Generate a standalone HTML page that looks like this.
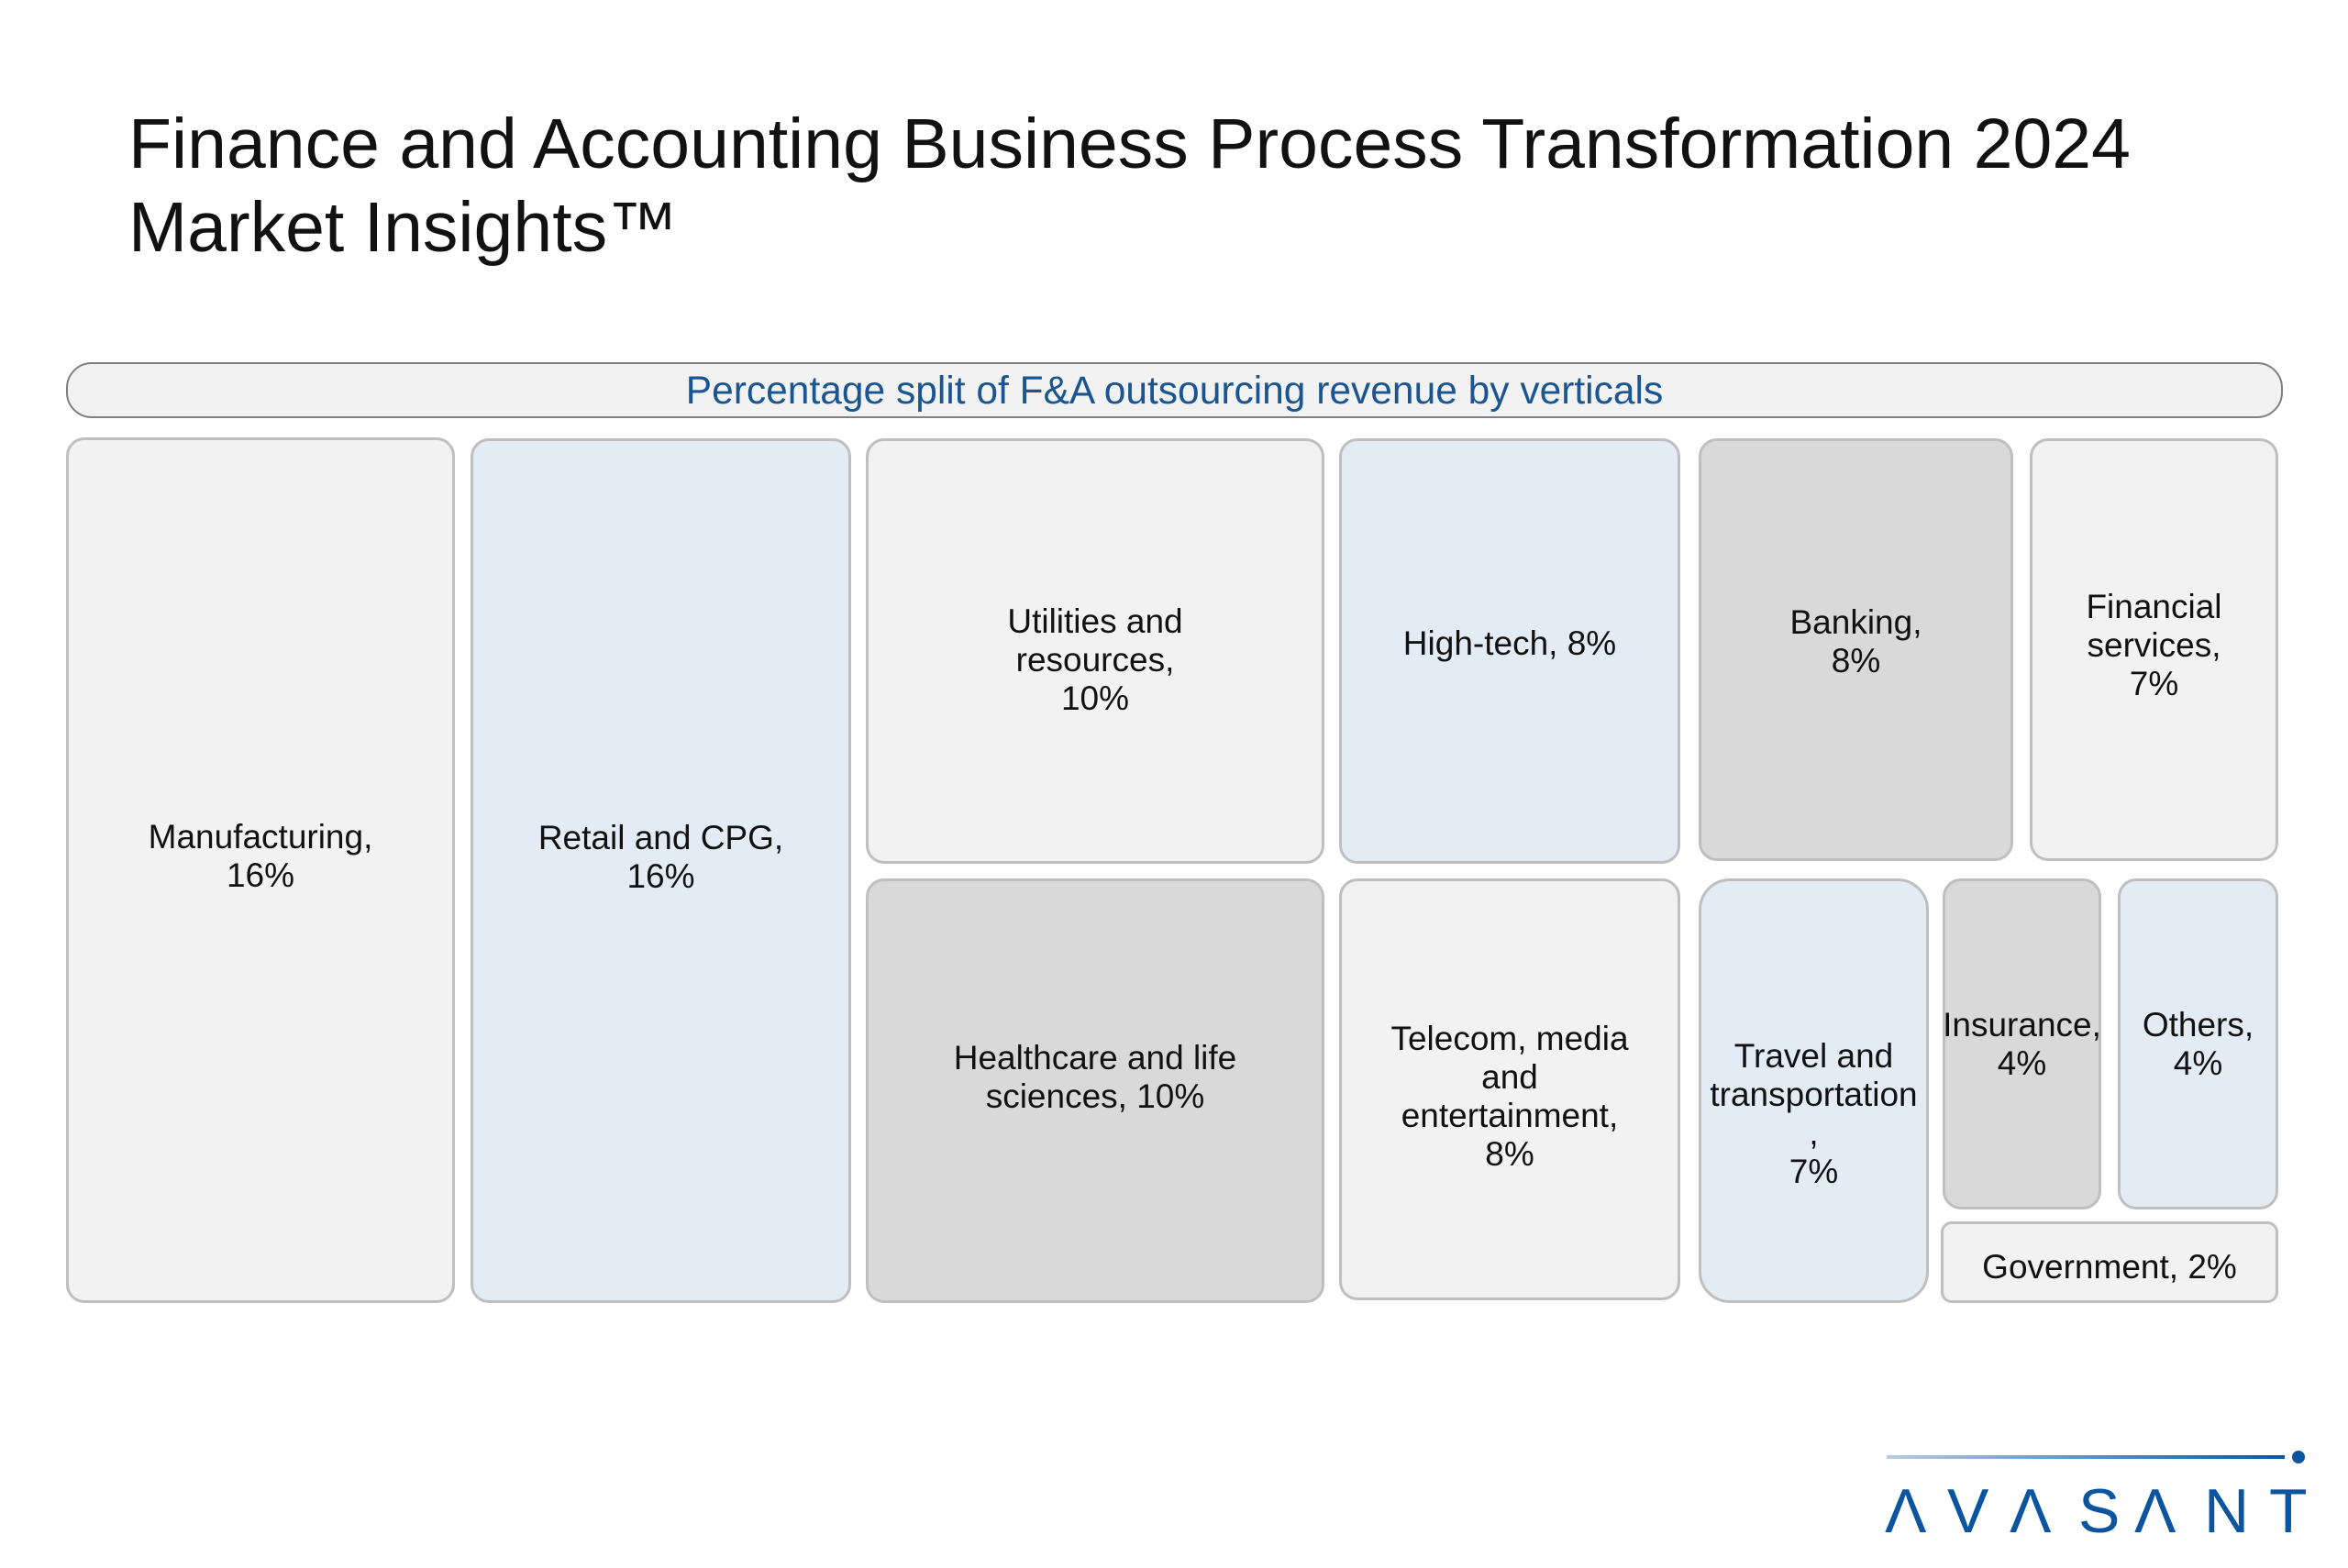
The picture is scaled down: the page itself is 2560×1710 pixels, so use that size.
<!DOCTYPE html>
<html><head><meta charset="utf-8"><style>
body{margin:0;width:2560px;height:1710px;background:#fff;position:relative;overflow:hidden;font-family:"Liberation Sans",sans-serif}
.t{position:absolute;left:140px;top:112px;font-size:77px;line-height:91px;color:#111}
.hdr{position:absolute;left:72px;top:395px;width:2413px;height:57px;border:2px solid #808080;border-radius:28px;background:#f2f2f2;color:#1a5591;font-size:42.5px;text-align:center;line-height:60px}
.b{position:absolute;box-sizing:border-box;border:3px solid #bfbfbf;border-radius:20px;display:flex;align-items:center;justify-content:center;text-align:center;font-size:37px;line-height:42px;color:#111}
.g{background:#f2f2f2}.l{background:#e3ecf5}.d{background:#d9d9d9}
</style></head><body>
<div class="t">Finance and Accounting Business Process Transformation 2024<br>Market Insights™</div>
<div class="hdr">Percentage split of F&amp;A outsourcing revenue by verticals</div>
<div class="b g" style="left:72px;top:477px;width:424px;height:944px;padding-bottom:30px">Manufacturing,<br>16%</div>
<div class="b l" style="left:513px;top:478px;width:415px;height:943px;padding-bottom:30px">Retail and CPG,<br>16%</div>
<div class="b g" style="left:944px;top:478px;width:500px;height:464px;padding-top:20px">Utilities and<br>resources,<br>10%</div>
<div class="b d" style="left:944px;top:958px;width:500px;height:463px;padding-bottom:30px">Healthcare and life<br>sciences, 10%</div>
<div class="b l" style="left:1460px;top:478px;width:372px;height:464px;padding-bottom:16px">High-tech, 8%</div>
<div class="b g" style="left:1460px;top:958px;width:372px;height:460px;padding-top:16px">Telecom, media<br>and<br>entertainment,<br>8%</div>
<div class="b d" style="left:1852px;top:478px;width:343px;height:461px;padding-bottom:18px">Banking,<br>8%</div>
<div class="b g" style="left:2213px;top:478px;width:271px;height:461px;padding-bottom:10px">Financial<br>services,<br>7%</div>
<div class="b l" style="left:1852px;top:958px;width:251px;height:463px;border-radius:34px;padding-top:50px">Travel and<br>transportation<br>,<br>7%</div>
<div class="b d" style="left:2118px;top:958px;width:173px;height:361px">Insurance,<br>4%</div>
<div class="b l" style="left:2309px;top:958px;width:175px;height:361px">Others,<br>4%</div>
<div class="b g" style="left:2116px;top:1332px;width:368px;height:89px;border-radius:12px;padding-top:10px">Government, 2%</div>
<svg style="position:absolute;left:0;top:0" width="2560" height="1710">
<defs><linearGradient id="lg" x1="0" x2="1"><stop offset="0" stop-color="#0b55a0" stop-opacity="0.3"/><stop offset="1" stop-color="#0b55a0"/></linearGradient></defs>
<rect x="2057" y="1587" width="434" height="4" fill="url(#lg)"/>
<circle cx="2506" cy="1589" r="7" fill="#0b55a0"/>
<g font-family="Liberation Sans,sans-serif" font-size="68" fill="#0b55a0">
<text x="2055" y="1671">Λ</text><text x="2123" y="1671">V</text><text x="2191" y="1671">Λ</text><text x="2266" y="1671">S</text><text x="2327" y="1671">Λ</text><text x="2403" y="1671">N</text><text x="2474" y="1671">T</text>
</g></svg>
</body></html>
